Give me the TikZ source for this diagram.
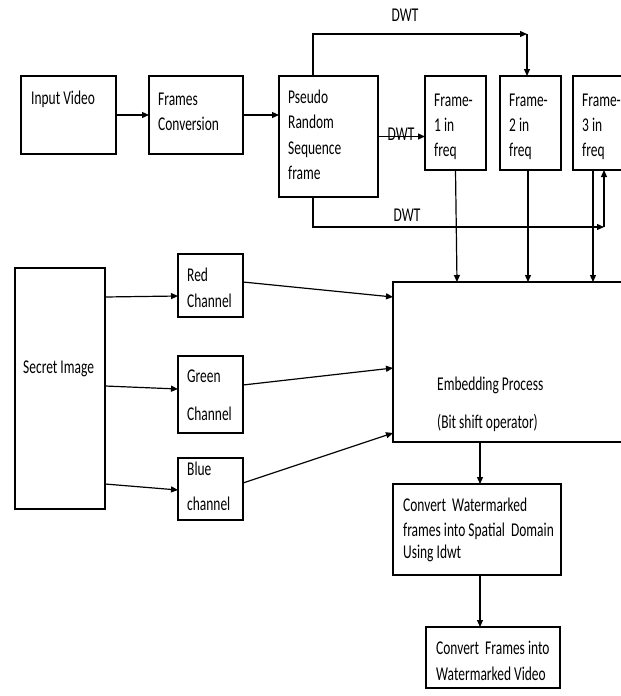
\documentclass[tikz,border=0pt]{standalone}
\usepackage{fontspec}
\setmainfont{Carlito}[FakeStretch=0.69]
\usetikzlibrary{arrows.meta,calc}
\begin{document}
\begin{tikzpicture}[x=1pt,y=-1pt,
  box/.style={draw, line width=1.2pt, inner sep=0pt, outer sep=0pt},
  t/.style={anchor=base west, inner sep=0pt, font=\fontsize{19.5}{24}\selectfont},
  tc/.style={anchor=base, inner sep=0pt, font=\fontsize{19.5}{24}\selectfont},
  ln/.style={line width=1.2pt},
  arr/.style={line width=1.2pt, -{Triangle[length=7pt,width=6pt]}}]
\useasboundingbox (0,0) rectangle (621,696);
\clip (0,0) rectangle (621,696);
\newcommand\mkbox[5]{\node[box, minimum width={#4-#2}, minimum height={#5-#3}] (#1) at ({(#2+#4)/2},{(#3+#5)/2}) {};}
% boxes
\mkbox{iv}{21}{76}{116}{154}
\mkbox{fc}{149}{76}{243}{154}
\mkbox{pr}{279}{76}{378}{197}
\mkbox{fa}{425}{76}{486}{170}
\mkbox{fb}{500}{76}{561}{170}
\mkbox{fd}{573}{76}{634}{170}
\mkbox{si}{15}{268}{105}{509}
\mkbox{rc}{178}{254}{243}{317}
\mkbox{gc}{178}{356}{243}{433}
\mkbox{bc}{178}{458}{243}{520}
\mkbox{emb}{393}{282}{660}{442}
\mkbox{cw}{393}{484}{561}{575}
\mkbox{fv}{426}{627}{560}{688}
% texts
\node[t] (iv1) at (31,104) {Input Video};
\node[t] (fc1) at (158,105) {Frames};
\node[t] (fc2) at (158,130) {Conversion};
\node[t] (pr1) at (288,103) {Pseudo};
\node[t] (pr2) at (288,128.5) {Random};
\node[t] (pr3) at (288,154) {Sequence};
\node[t] (pr4) at (288,179.5) {frame};
\node[t] (fa1) at (434,106) {Frame-};
\node[t] (fa2) at (434,131) {1 in};
\node[t] (fa3) at (434,156) {freq};
\node[t] (fb1) at (509,106) {Frame-};
\node[t] (fb2) at (509,131) {2 in};
\node[t] (fb3) at (509,156) {freq};
\node[t] (fd1) at (582,106) {Frame-};
\node[t] (fd2) at (582,131) {3 in};
\node[t] (fd3) at (582,156) {freq};
\node[t] (si1) at (23,373) {Secret Image};
\node[t] (rc1) at (187,281) {Red};
\node[t] (rc2) at (187,307) {Channel};
\node[t] (gc1) at (187,382) {Green};
\node[t] (gc2) at (187,420) {Channel};
\node[t] (bc1) at (187,475) {Blue};
\node[t] (bc2) at (187,510) {channel};
\node[t] (em1) at (437,390) {Embedding Process};
\node[t] (em2) at (437,428) {(Bit shift operator)};
\node[t] (cw1) at (403,511) {Convert\ \ Watermarked};
\node[t] (cw2) at (403,536) {frames into Spatial\ \ Domain};
\node[t] (cw3) at (403,558) {Using Idwt};
\node[t] (fv1) at (436,654) {Convert\ \ Frames into};
\node[t] (fv2) at (436,680) {Watermarked Video};
% connectors
\draw[arr] (iv.east) -- (fc.west);
\draw[arr] (fc.east) -- (fc.east -| pr.west);
\coordinate (tl) at (313,34);
\coordinate (tr) at (527,34);
\coordinate (bl) at (313,227);
\coordinate (brr) at (604,227);
\draw[arr] (pr.north -| tl) -- (tl) -- (tr);
\draw[arr] (tr) -- (tr |- fb.north);
\draw[arr] (pr.south -| bl) -- (bl) -- (brr);
\draw[arr] (brr) -- (brr |- fd.south);
\draw[arr] (pr.east) -- (pr.east -| fa.west);
\node[tc] (dwt1) at (405,21) {DWT};
\node[tc] (dwt2) at (401,140) {DWT};
\node[tc] (dwt3) at (407,221) {DWT};
\draw[arr] (fa.south) -- (457,282);
\draw[arr] (fb.south -| 528,0) -- (528,282);
\draw[arr] (fd.south -| 593,0) -- (593,282);
\draw[arr] (si.east |- 0,297) -- (rc.west |- 0,296);
\draw[arr] (si.east |- 0,386) -- (gc.west |- 0,389);
\draw[arr] (si.east |- 0,484) -- (bc.west |- 0,490);
\draw[arr] (rc.east |- 0,282) -- (emb.west |- 0,297);
\draw[arr] (gc.east |- 0,385) -- (emb.west |- 0,368);
\draw[arr] (bc.east |- 0,483) -- (emb.west |- 0,433);
\draw[arr] (emb.south -| 480,0) -- (cw.north -| 480,0);
\draw[arr] (cw.south -| 480,0) -- (fv.north -| 480,0);
\end{tikzpicture}
\end{document}
